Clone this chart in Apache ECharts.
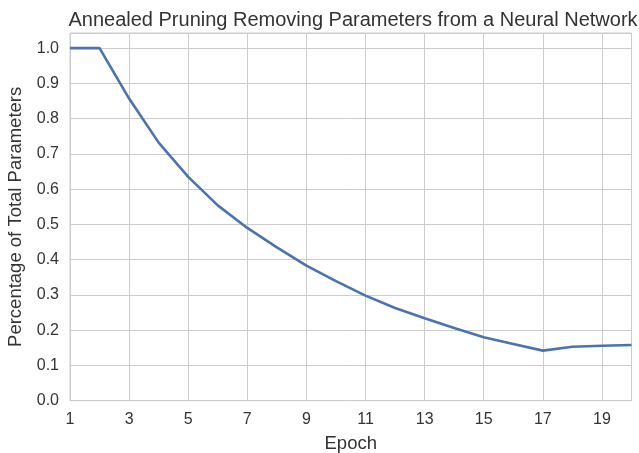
<!DOCTYPE html>
<html>
<head>
<meta charset="utf-8">
<script src="https://cdn.jsdelivr.net/npm/echarts@6/dist/echarts.min.js"></script>
<style>html,body{margin:0;padding:0;background:#fff}#c{width:639px;height:453px}</style>
</head>
<body>
<div id="c"></div>
<script>
const epochs = [1,2,3,4,5,6,7,8,9,10,11,12,13,14,15,16,17,18,19,20];
const paramFraction = [1.0,1.0,0.857,0.732,0.635,0.554,0.49,0.435,0.383,0.339,0.298,0.263,0.234,0.206,0.18,0.161,0.142,0.153,0.156,0.158];
const titleText = 'Annealed Pruning Removing Parameters from a Neural Network';
const xName = 'Epoch';
const yName = 'Percentage of Total Parameters';

const chart = echarts.init(document.getElementById('c'), null, {renderer:'canvas'});
const font = '"Liberation Sans", Arial, sans-serif';
chart.setOption({
  animation: false,
  backgroundColor: '#fff',
  title: {
    text: titleText, left: 348, top: 5, textAlign: 'center',
    textStyle: {fontFamily: font, fontSize: 20, fontWeight: 'normal', color: '#333333'}
  },
  grid: {left: 70, right: 7.5, top: 33, bottom: 52.3, show: true, borderColor: '#cccccc', borderWidth: 1,
    containLabel: false, outerBoundsMode: 'none'},
  xAxis: {
    type: 'value', min: 1, max: 20, interval: 2,
    name: xName, nameLocation: 'middle', nameGap: 34,
    nameTextStyle: {fontFamily: font, fontSize: 18.5, color: '#333333'},
    axisLine: {show: false}, axisTick: {show: false},
    axisLabel: {showMaxLabel: false, margin: 11, fontFamily: font, fontSize: 16, color: '#333333'},
    splitLine: {show: true, lineStyle: {color: '#cccccc', width: 1}}
  },
  yAxis: {
    type: 'value', min: 0, max: 1.043, interval: 0.1,
    name: yName, nameLocation: 'middle', nameGap: 42,
    nameTextStyle: {fontFamily: font, fontSize: 18.5, color: '#333333'},
    axisLine: {show: false}, axisTick: {show: false},
    axisLabel: {showMaxLabel: false, margin: 11, fontFamily: font, fontSize: 16, color: '#333333',
      formatter: v => v.toFixed(1)},
    splitLine: {show: true, lineStyle: {color: '#cccccc', width: 1}}
  },
  series: [{
    type: 'line', data: epochs.map((e,i)=>[e, paramFraction[i]]),
    showSymbol: false, symbol: 'none',
    lineStyle: {color: '#4c72b0', width: 2.6}, itemStyle: {color: '#4c72b0'}
  }]
});
</script>
</body>
</html>
